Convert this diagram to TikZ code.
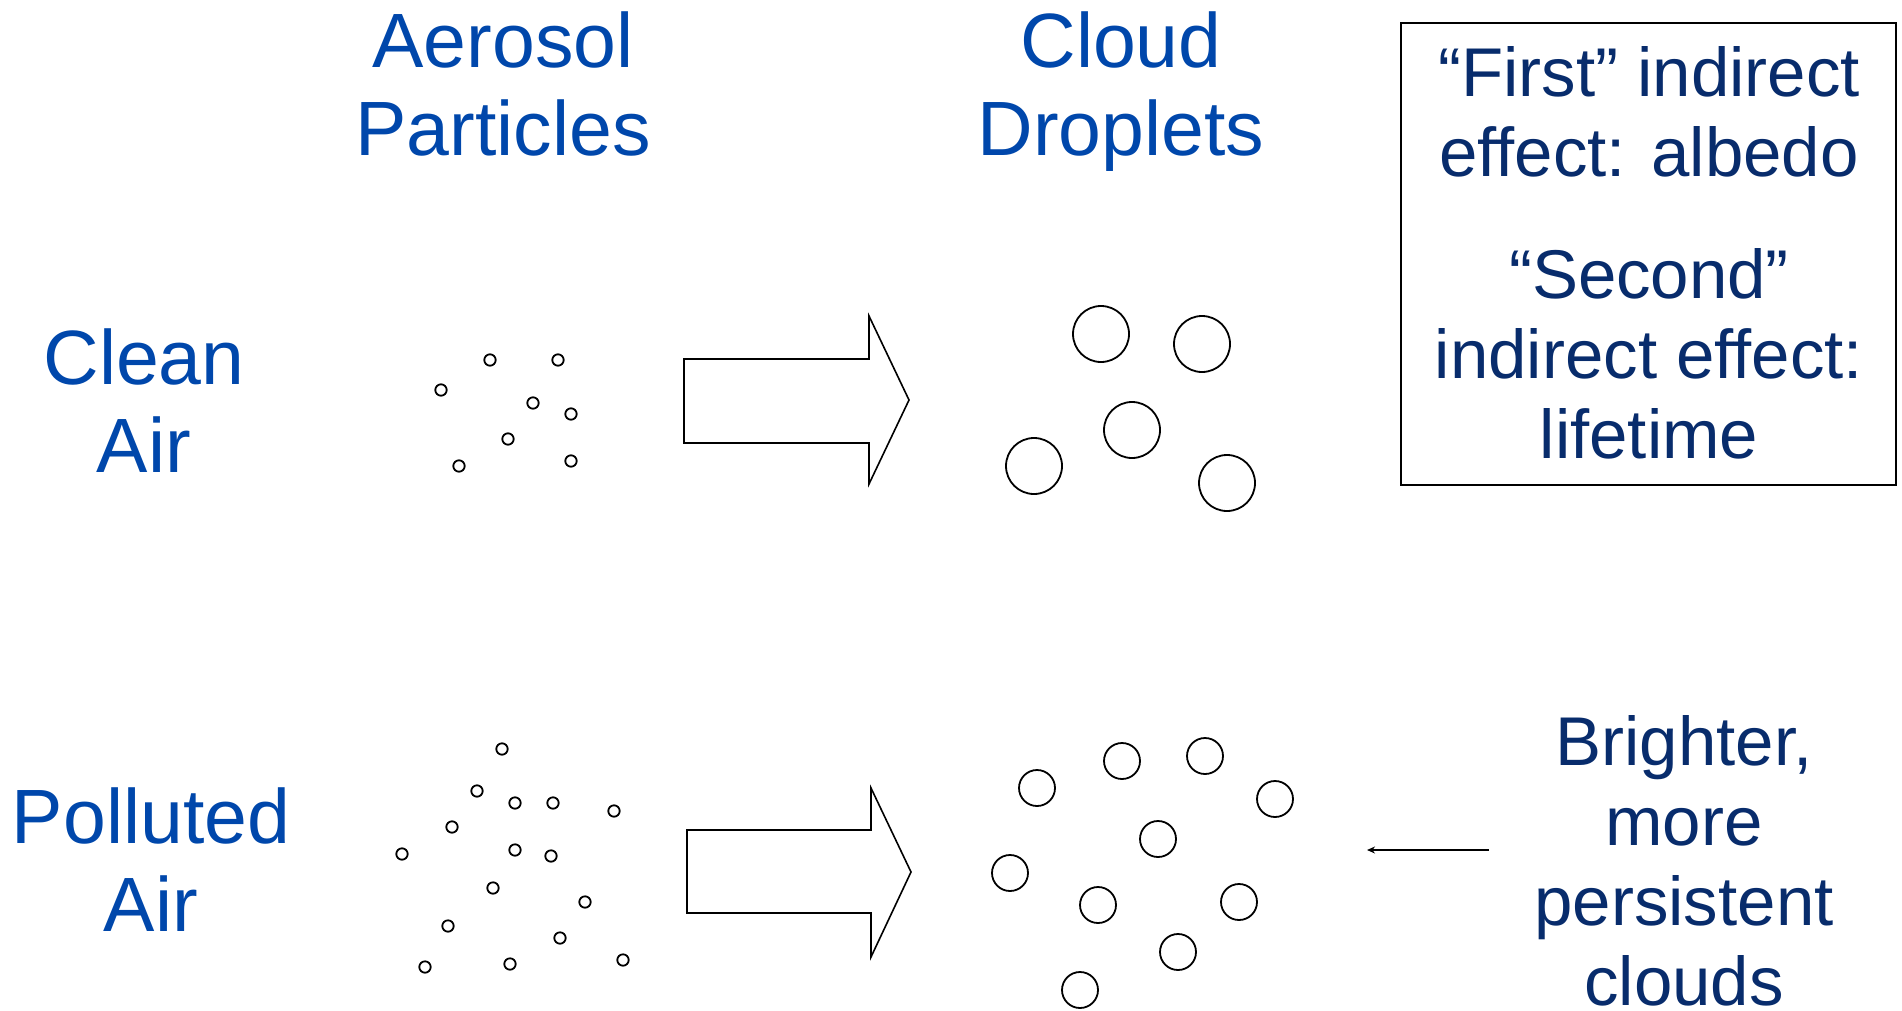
\documentclass[tikz,border=0pt]{standalone}
\usepackage{fontspec}
\setmainfont{Liberation Sans}
\usetikzlibrary{arrows.meta}
\definecolor{titleblue}{RGB}{0,71,171}
\definecolor{navy}{RGB}{8,44,108}
\tikzset{
  bluetext/.style={text=titleblue, inner sep=0pt, align=center, anchor=base,
    font=\fontsize{77}{88}\selectfont},
  navytext/.style={text=navy, inner sep=0pt, align=center, anchor=base,
    font=\fontsize{69}{80}\selectfont},
  particle/.style={draw=black, line width=1.8pt},
  droplet/.style={draw=black, line width=1.8pt},
  blockarrow/.style={draw=black, line width=1.6pt, line join=miter},
}
\begin{document}
\begin{tikzpicture}[x=1pt,y=-1pt]
\useasboundingbox (0,0) rectangle (1902,1010);

% column / row titles (anchor = baseline of last line)
\node[bluetext] (aerosol) at (503,155) {Aerosol\\Particles};
\node[bluetext] (cloud) at (1121,155) {Cloud\\Droplets};
\node[bluetext] (clean) at (144,472) {Clean\\Air};
\node[bluetext] (polluted) at (151,931) {Polluted\\Air};

% info box
\draw[line width=1.5pt] (1401,23) rectangle (1896,485);
\node[navytext] (first) at (1649,176) {“First” indirect\\effect: albedo};
\node[navytext] (second) at (1649,458) {“Second”\\indirect effect:\\lifetime};

% bottom right label
\node[navytext] (brighter) at (1684,1005) {Brighter,\\more\\persistent\\clouds};

% clean aerosol particles
\foreach \x/\y in {490/360, 558/360, 441/390, 533/403, 571/414, 508/439, 459/466, 571/461}
  \draw[particle] (\x,\y) circle (5.7);

% polluted aerosol particles
\foreach \x/\y in {502/749, 477/791, 515/803, 553/803, 614/811, 452/827, 402/854, 515/850,
                   551/856, 493/888, 585/902, 448/926, 560/938, 425/967, 510/964, 623/960}
  \draw[particle] (\x,\y) circle (5.7);

% clean cloud droplets
\foreach \x/\y in {1101/334, 1202/344, 1132/430, 1034/466, 1227/483}
  \draw[droplet] (\x,\y) circle (28);

% polluted cloud droplets
\foreach \x/\y in {1037/788, 1122/761, 1205/756, 1275/799, 1158/839, 1010/873,
                   1098/905, 1239/902, 1178/952, 1080/990}
  \draw[droplet] (\x,\y) circle (18);

% block arrows
\draw[blockarrow] (684,359) -- (869,359) -- (869,316) -- (909,400) -- (869,484)
  -- (869,443) -- (684,443) -- cycle;
\draw[blockarrow] (687,830) -- (871,830) -- (871,788) -- (911,872) -- (871,957)
  -- (871,913) -- (687,913) -- cycle;

% small arrow
\coordinate (sastart) at (1489,850);
\coordinate (saend) at (1367,850);
\draw[line width=1.5pt, -{Stealth[length=8pt,width=7pt]}] (sastart) -- (saend);
\end{tikzpicture}
\end{document}
